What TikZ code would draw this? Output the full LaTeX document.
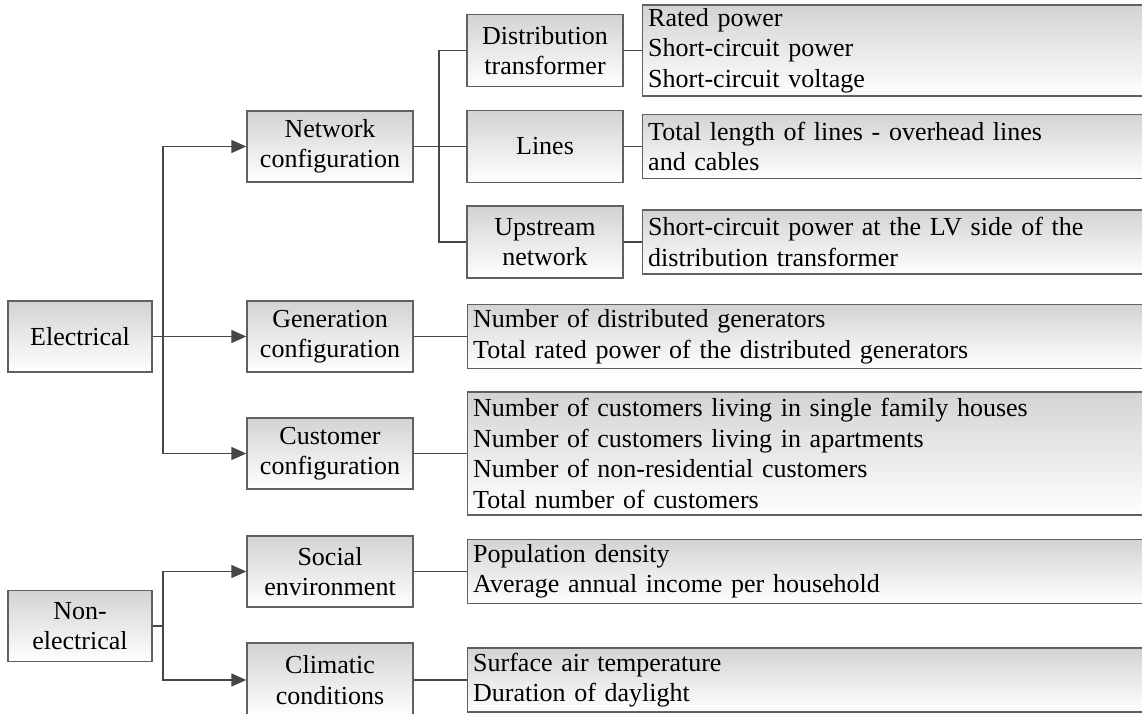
\documentclass[tikz,border=0pt]{standalone}
\usepackage{fontspec}
\setmainfont{Liberation Serif}
\usetikzlibrary{arrows.meta,positioning}
\definecolor{cTop}{HTML}{D3D3D3}
\definecolor{cBot}{HTML}{FFFFFF}
\definecolor{cEdge}{HTML}{606060}
\definecolor{cLine}{HTML}{474747}

\begin{document}
\begin{tikzpicture}[
  x=1pt,y=-1pt,
  font=\fontsize{26}{30.5}\selectfont,
  >={Triangle[length=15pt,width=13pt]},
  box/.style={draw=cEdge,line width=1.4pt,top color=cTop,bottom color=cBot,inner sep=0pt},
  cat/.style={box,align=center,minimum width=144pt,minimum height=71pt},
  grp/.style={box,align=center,minimum width=166pt,minimum height=71pt},
  sub/.style={box,align=center,minimum width=156pt,minimum height=72pt},
  attr/.style={box,anchor=west,align=left,inner xsep=5.5pt,text width=#1},
  flow/.style={->,line width=1.4pt,cLine},
  link/.style={line width=1.4pt,cLine},
]
\useasboundingbox (0,0) rectangle (1142,713);

% ---------- CATEGORIES ----------
\node[cat] (elec) at (80,336.5) {Electrical};
\node[cat] (nonelec) at (80,626) {Non-\\electrical};

% ---------- GROUPS ----------
\node[grp] (netcfg) at (330,146.5) {Network\\configuration};
\node[grp] (gencfg) at (330,336.5) {Generation\\configuration};
\node[grp] (cuscfg) at (330,453.5) {Customer\\configuration};
\node[grp] (soccfg) at (330,571.5) {Social\\environment};
\node[grp,minimum height=74pt] (climcfg) at (330,680) {Climatic\\conditions};

% ---------- NETWORK PARTS ----------
\node[sub] (dtr) at (545,50.5) {Distribution\\transformer};
\node[sub] (lines) at (545,146.5) {Lines};
\node[sub] (upnet) at (545,242) {Upstream\\network};

% ---------- ATTRIBUTES ----------
\node[attr=498pt,minimum height=91pt] (dtrattr) at (642,50.5)
  {Rated power\\Short-circuit power\\Short-circuit voltage};
\node[attr=498pt,minimum height=64pt] (linesattr) at (642,146.5)
  {Total length of lines - overhead lines\\and cables};
\node[attr=498pt,minimum height=64pt] (upnetattr) at (642,242)
  {Short-circuit power at the LV side of the\\distribution transformer};
\node[attr=673pt,minimum height=64pt] (genattr) at (467,336.5)
  {Number of distributed generators\\Total rated power of the distributed generators};
\node[attr=673pt,minimum height=123pt] (cusattr) at (467,453.5)
  {Number of customers living in single family houses\\Number of customers living in apartments\\Number of non-residential customers\\Total number of customers};
\node[attr=673pt,minimum height=64pt] (socattr) at (467,571.5)
  {Population density\\Average annual income per household};
\node[attr=673pt,minimum height=64pt] (climattr) at (467,680)
  {Surface air temperature\\Duration of daylight};

% ---------- TRUNKS ----------
\coordinate (eT) at (163,0);
\coordinate (nT) at (439,0);

% ---------- ARROWS ----------
\draw[flow] (elec.east) -- (eT |- elec.east) |- (netcfg.west);
\draw[flow] (elec.east) -- (gencfg.west);
\draw[flow] (elec.east) -- (eT |- elec.east) |- (cuscfg.west);
\draw[flow] (nonelec.east) -- (eT |- nonelec.east) |- (soccfg.west);
\draw[flow] (nonelec.east) -- (eT |- nonelec.east) |- (climcfg.west);

% ---------- LINKS ----------
\draw[link] (netcfg.east) -- (lines.west);
\draw[link] (nT |- netcfg.east) |- (dtr.west);
\draw[link] (nT |- netcfg.east) |- (upnet.west);
\draw[link] (dtr.east) -- (dtrattr.west);
\draw[link] (lines.east) -- (linesattr.west);
\draw[link] (upnet.east) -- (upnetattr.west);
\draw[link] (gencfg.east) -- (genattr.west);
\draw[link] (cuscfg.east) -- (cusattr.west);
\draw[link] (soccfg.east) -- (socattr.west);
\draw[link] (climcfg.east) -- (climattr.west);

\end{tikzpicture}
\end{document}
